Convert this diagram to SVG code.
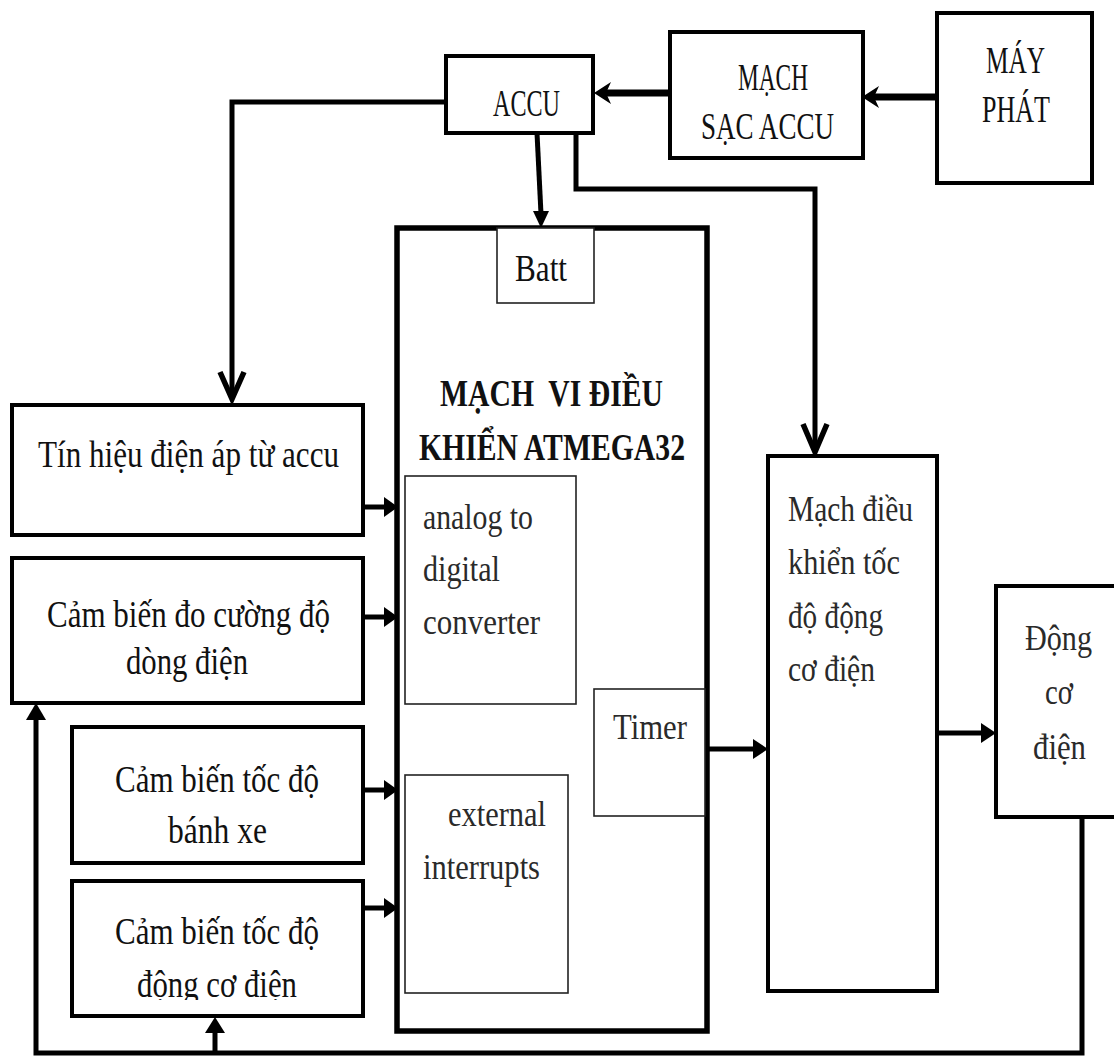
<svg xmlns="http://www.w3.org/2000/svg" width="1114" height="1057" viewBox="0 0 1114 1057">
<style>
  .box{fill:#fff;stroke:#000;stroke-width:4}
  .big{fill:#fff;stroke:#000;stroke-width:5.5}
  .inner{fill:#fff;stroke:#222;stroke-width:1.6}
  .t{font-family:"Liberation Serif","Times New Roman",serif;font-size:37px;fill:#111}
  .ti{font-family:"Liberation Serif","Times New Roman",serif;font-size:36px;fill:#2a2a2a}
  .tb{font-family:"Liberation Serif","Times New Roman",serif;font-size:38px;font-weight:bold;fill:#111;white-space:pre}
  .ln{fill:none;stroke:#000;stroke-width:5}
  .ln7{fill:none;stroke:#000;stroke-width:7}
  .chev{fill:none;stroke:#000;stroke-width:5.5;stroke-linejoin:miter}
  .ah{fill:#000;stroke:none}
</style>
<defs>
  <clipPath id="clip4"><rect x="72" y="880" width="292" height="120"/></clipPath>
</defs>
<rect width="1114" height="1057" fill="#fff"/>

<g id="connectors">
  <line class="ln7" x1="937" y1="97" x2="874" y2="97"/>
  <polygon class="ah" points="862,97 879,86 874,97 879,108"/>
  <line class="ln7" x1="670" y1="93" x2="606" y2="93"/>
  <polygon class="ah" points="594,93 611,82 606,93 611,104"/>
  <path class="ln" d="M446,102 H232 V398"/>
  <polyline class="chev" points="220,372 232,399 244,372"/>
  <line class="ln" x1="537" y1="133" x2="541" y2="214"/>
  <polygon class="ah" points="541,228 533,211 549,211"/>
  <path class="ln" d="M576,133 V189 H815 V451"/>
  <polyline class="chev" points="803,424 815,452 827,424"/>
  <line class="ln" x1="363" y1="507" x2="386" y2="507"/>
  <polygon class="ah" points="398,507 384,497 384,517"/>
  <line class="ln" x1="363" y1="617" x2="386" y2="617"/>
  <polygon class="ah" points="398,617 384,607 384,627"/>
  <line class="ln" x1="363" y1="790" x2="386" y2="790"/>
  <polygon class="ah" points="398,790 384,780 384,800"/>
  <line class="ln" x1="363" y1="908" x2="386" y2="908"/>
  <polygon class="ah" points="398,908 384,898 384,918"/>
  <line class="ln" x1="708" y1="749" x2="755" y2="749"/>
  <polygon class="ah" points="768,749 753,739 753,759"/>
  <line class="ln" x1="938" y1="733" x2="982" y2="733"/>
  <polygon class="ah" points="996,733 981,723 981,743"/>
  <path class="ln" d="M1082,818 V1053 H36 V718"/>
  <polygon class="ah" points="36,703 26,720 46,720"/>
  <line class="ln" x1="215" y1="1053" x2="215" y2="1030"/>
  <polygon class="ah" points="215,1017 205,1033 225,1033"/>
</g>

<g id="may-phat">
  <rect class="box" x="937" y="13" width="155" height="170"/>
  <text class="t" x="986" y="73" textLength="59" lengthAdjust="spacingAndGlyphs">MÁY</text>
  <text class="t" x="982" y="122" textLength="68" lengthAdjust="spacingAndGlyphs">PHÁT</text>
</g>

<g id="mach-sac">
  <rect class="box" x="670" y="32" width="193" height="126"/>
  <text class="t" x="738" y="90" textLength="70" lengthAdjust="spacingAndGlyphs">MẠCH</text>
  <text class="t" x="701" y="139" textLength="133" lengthAdjust="spacingAndGlyphs">SẠC ACCU</text>
</g>

<g id="accu">
  <rect class="box" x="446" y="56" width="147" height="77"/>
  <text class="t" x="493" y="116" textLength="67" lengthAdjust="spacingAndGlyphs">ACCU</text>
</g>

<g id="mcu">
  <rect class="big" x="397" y="228" width="310" height="803"/>
  <rect class="inner" x="497" y="228" width="97" height="75"/>
  <text class="t" x="515" y="281" textLength="52" lengthAdjust="spacingAndGlyphs">Batt</text>
  <text class="tb" x="440" y="406" textLength="223" lengthAdjust="spacingAndGlyphs" xml:space="preserve">MẠCH  VI ĐIỀU</text>
  <text class="tb" x="419" y="460" textLength="266" lengthAdjust="spacingAndGlyphs">KHIỂN ATMEGA32</text>
  <g id="adc">
    <rect class="inner" x="405" y="476" width="171" height="228"/>
    <text class="ti" x="423" y="529" textLength="110" lengthAdjust="spacingAndGlyphs">analog to</text>
    <text class="ti" x="423" y="581" textLength="77" lengthAdjust="spacingAndGlyphs">digital</text>
    <text class="ti" x="423" y="634" textLength="117" lengthAdjust="spacingAndGlyphs">converter</text>
  </g>
  <g id="timer">
    <rect class="inner" x="594" y="689" width="111" height="127"/>
    <text class="ti" x="613" y="739" textLength="74" lengthAdjust="spacingAndGlyphs">Timer</text>
  </g>
  <g id="ext-int">
    <rect class="inner" x="405" y="775" width="163" height="218"/>
    <text class="ti" x="448" y="826" textLength="98" lengthAdjust="spacingAndGlyphs">external</text>
    <text class="ti" x="423" y="879" textLength="117" lengthAdjust="spacingAndGlyphs">interrupts</text>
  </g>
</g>

<g id="tin-hieu">
  <rect class="box" x="12" y="405" width="351" height="130"/>
  <text class="t" x="38" y="467" textLength="301" lengthAdjust="spacingAndGlyphs">Tín hiệu điện áp từ accu</text>
</g>

<g id="cam-bien-dong">
  <rect class="box" x="12" y="558" width="351" height="145"/>
  <text class="t" x="47" y="627" textLength="283" lengthAdjust="spacingAndGlyphs">Cảm biến đo cường độ</text>
  <text class="t" x="126" y="674" textLength="122" lengthAdjust="spacingAndGlyphs">dòng điện</text>
</g>

<g id="cam-bien-banh-xe">
  <rect class="box" x="72" y="727" width="291" height="136"/>
  <text class="t" x="115" y="792" textLength="204" lengthAdjust="spacingAndGlyphs">Cảm biến tốc độ</text>
  <text class="t" x="168" y="843" textLength="99" lengthAdjust="spacingAndGlyphs">bánh xe</text>
</g>

<g id="cam-bien-dong-co">
  <rect class="box" x="72" y="881" width="291" height="135"/>
  <text class="t" x="115" y="944" textLength="204" lengthAdjust="spacingAndGlyphs">Cảm biến tốc độ</text>
  <text class="t" x="137" y="997" textLength="160" lengthAdjust="spacingAndGlyphs" clip-path="url(#clip4)">động cơ điện</text>
</g>

<g id="mach-dieu-khien">
  <rect class="box" x="768" y="456" width="169" height="535"/>
  <text class="ti" x="788" y="521" textLength="125" lengthAdjust="spacingAndGlyphs">Mạch điều</text>
  <text class="ti" x="788" y="574" textLength="112" lengthAdjust="spacingAndGlyphs">khiển tốc</text>
  <text class="ti" x="788" y="628" textLength="95" lengthAdjust="spacingAndGlyphs">độ động</text>
  <text class="ti" x="788" y="681" textLength="87" lengthAdjust="spacingAndGlyphs">cơ điện</text>
</g>

<g id="dong-co">
  <rect class="box" x="996" y="586" width="130" height="231"/>
  <text class="ti" x="1025" y="650" textLength="67" lengthAdjust="spacingAndGlyphs">Động</text>
  <text class="ti" x="1045" y="704" textLength="28" lengthAdjust="spacingAndGlyphs">cơ</text>
  <text class="ti" x="1033" y="759" textLength="53" lengthAdjust="spacingAndGlyphs">điện</text>
</g>
</svg>
